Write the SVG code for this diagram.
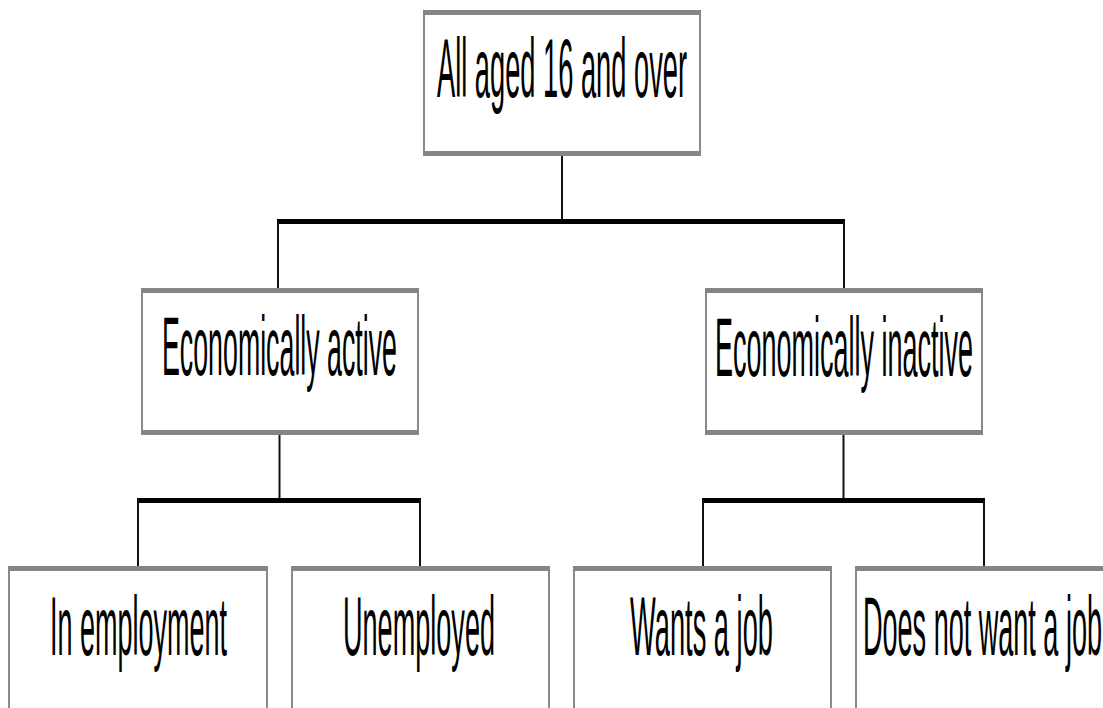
<svg xmlns="http://www.w3.org/2000/svg" width="1103" height="708" viewBox="0 0 1103 708">
<style>
.box{fill:#fff;stroke:#8a8a8a;stroke-width:2}
.bar{fill:#858585}
.lbl{font-family:"Liberation Sans",Arial,sans-serif;font-size:84px;fill:#000}
.thin{stroke:#111;stroke-width:2;fill:none}
.thick{stroke:#000;stroke-width:5;fill:none}
</style>
<rect width="1103" height="708" fill="#fff"/>
<g id="connectors">
<line class="thin" x1="562" y1="156" x2="562" y2="221"/>
<line class="thick" x1="277" y1="221.5" x2="845" y2="221.5"/>
<line class="thin" x1="278" y1="221" x2="278" y2="289"/>
<line class="thin" x1="844" y1="221" x2="844" y2="289"/>
<line class="thin" x1="279.5" y1="434" x2="279.5" y2="500"/>
<line class="thick" x1="137" y1="500.5" x2="421" y2="500.5"/>
<line class="thin" x1="138" y1="500" x2="138" y2="567"/>
<line class="thin" x1="420" y1="500" x2="420" y2="567"/>
<line class="thin" x1="843.5" y1="434" x2="843.5" y2="500"/>
<line class="thick" x1="702" y1="500.5" x2="985" y2="500.5"/>
<line class="thin" x1="703" y1="500" x2="703" y2="567"/>
<line class="thin" x1="984" y1="500" x2="984" y2="567"/>
</g>
<g id="n-all">
<rect class="box" x="424" y="12" width="276" height="142"/>
<rect class="bar" x="423" y="10" width="278" height="5"/>
<rect class="bar" x="423" y="151" width="278" height="5"/>
<text class="lbl" x="437" y="97" textLength="250" lengthAdjust="spacingAndGlyphs">All aged 16 and over</text>
</g>
<g id="n-active">
<rect class="box" x="142" y="290" width="276" height="143"/>
<rect class="bar" x="141" y="288" width="278" height="5"/>
<rect class="bar" x="141" y="430" width="278" height="5"/>
<text class="lbl" x="162" y="375" textLength="235" lengthAdjust="spacingAndGlyphs">Economically active</text>
</g>
<g id="n-inactive">
<rect class="box" x="706" y="290" width="276" height="143"/>
<rect class="bar" x="705" y="288" width="278" height="5"/>
<rect class="bar" x="705" y="430" width="278" height="5"/>
<text class="lbl" x="715" y="376" textLength="258" lengthAdjust="spacingAndGlyphs">Economically inactive</text>
</g>
<g id="n-employment">
<rect class="box" x="9" y="568" width="258" height="160"/>
<rect class="bar" x="8" y="566" width="260" height="5"/>
<text class="lbl" x="50" y="655" textLength="177" lengthAdjust="spacingAndGlyphs">In employment</text>
</g>
<g id="n-unemployed">
<rect class="box" x="292" y="568" width="257" height="160"/>
<rect class="bar" x="291" y="566" width="259" height="5"/>
<text class="lbl" x="343" y="655" textLength="152" lengthAdjust="spacingAndGlyphs">Unemployed</text>
</g>
<g id="n-wants">
<rect class="box" x="574" y="568" width="257" height="160"/>
<rect class="bar" x="573" y="566" width="259" height="5"/>
<text class="lbl" x="630" y="655" textLength="143" lengthAdjust="spacingAndGlyphs">Wants a job</text>
</g>
<g id="n-notwant">
<rect class="box" x="856" y="568" width="257" height="160"/>
<rect class="bar" x="855" y="566" width="259" height="5"/>
<text class="lbl" x="863" y="655" textLength="239" lengthAdjust="spacingAndGlyphs">Does not want a job</text>
</g>
</svg>
